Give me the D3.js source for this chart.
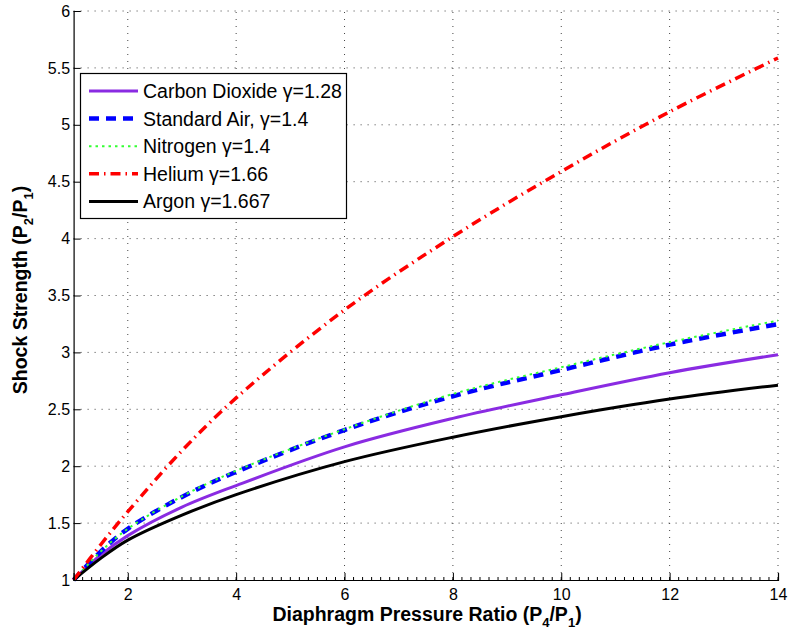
<!DOCTYPE html>
<html>
<head>
<meta charset="utf-8">
<script src="https://cdn.jsdelivr.net/npm/d3@7"></script>
<style>
  body { margin: 0; background: #fff; }
  svg { display: block; font-family: "Liberation Sans", Arial, Helvetica, sans-serif; }
</style>
</head>
<body>
<svg id="chart" width="789" height="636"></svg>
<script>
// ---- data ----
const pressureRatio = [1, 1.5, 2, 3, 4, 6, 8, 10, 12, 14];
const carbonDioxide = [1, 1.22, 1.39, 1.64, 1.83, 2.17, 2.42, 2.628, 2.822, 2.98];
const standardAir   = [1, 1.25, 1.45, 1.73, 1.95, 2.318, 2.615, 2.845, 3.068, 3.248];
const nitrogen      = [1, 1.25, 1.45, 1.735, 1.96, 2.325, 2.635, 2.87, 3.09, 3.28];
const helium        = [1, 1.31, 1.60, 2.136, 2.60, 3.373, 4.017, 4.59, 5.115, 5.587];
const argon         = [1, 1.19, 1.35, 1.57, 1.75, 2.04, 2.255, 2.435, 2.59, 2.712];
const seriesNames = ["Carbon Dioxide \u03b3=1.28", "Standard Air, \u03b3=1.4", "Nitrogen \u03b3=1.4", "Helium \u03b3=1.66", "Argon \u03b3=1.667"];
const xTicks = [2, 4, 6, 8, 10, 12, 14];
const yTicks = [1, 1.5, 2, 2.5, 3, 3.5, 4, 4.5, 5, 5.5, 6];

const styles = [
  { color: "#8a2be2", width: 3, dash: null },
  { color: "#0000ff", width: 4.5, dash: "10,7" },
  { color: "#33ff33", width: 2, dash: "2.5,4" },
  { color: "#ff0000", width: 3.5, dash: "10,5,1.5,5" },
  { color: "#000000", width: 3, dash: null }
];
const seriesValues = [carbonDioxide, standardAir, nitrogen, helium, argon];

const svg = d3.select("#chart");
const L = 73.6, R = 778, T = 11, B = 580;
const x = d3.scaleLinear().domain([1, 14]).range([L, R]);
const y = d3.scaleLinear().domain([1, 6]).range([B, T]);

// grid
const grid = svg.append("g");
grid.selectAll("line.gx").data(xTicks).enter().append("line")
  .attr("x1", d => x(d)).attr("x2", d => x(d)).attr("y1", B).attr("y2", T)
  .attr("stroke", "#444").attr("stroke-width", 1).attr("stroke-dasharray", "1,6");
grid.selectAll("line.gy").data(yTicks.filter(d => d > 1)).enter().append("line")
  .attr("x1", L).attr("x2", R).attr("y1", d => y(d)).attr("y2", d => y(d))
  .attr("stroke", "#444").attr("stroke-width", 1).attr("stroke-dasharray", "1,6");

// curves
const line = d3.line().x(d => x(d[0])).y(d => y(d[1])).curve(d3.curveCatmullRom.alpha(0.5));
const order = [0, 1, 2, 4, 3];
order.forEach(i => {
  const pts = pressureRatio.map((p, j) => [p, seriesValues[i][j]]);
  const path = svg.append("path").datum(pts).attr("d", line)
    .attr("fill", "none").attr("stroke", styles[i].color)
    .attr("stroke-width", styles[i].width);
  if (styles[i].dash) path.attr("stroke-dasharray", styles[i].dash);
});

// axes
const xAxis = d3.axisBottom(x).tickValues(xTicks).tickSize(-7).tickPadding(9).tickFormat(d3.format("d"));
const gx = svg.append("g").attr("transform", `translate(0,${B})`).call(xAxis);
const yAxis = d3.axisLeft(y).tickValues(yTicks).tickSize(-7).tickPadding(3.5).tickFormat(d => String(d));
const gy = svg.append("g").attr("transform", `translate(${L},0)`).call(yAxis);
[gx, gy].forEach(g => {
  g.select(".domain").attr("stroke", "#000").attr("stroke-width", 1.2);
  g.selectAll(".tick line").attr("stroke", "#000");
  g.selectAll(".tick text").attr("font-size", 16).attr("fill", "#000")
    .attr("font-family", "Liberation Sans, Arial, sans-serif");
});
// minor ticks on x axis
const minor = d3.range(1, 14.0001, 1 / 6);
svg.append("g").selectAll("line").data(minor).enter().append("line")
  .attr("x1", d => x(d)).attr("x2", d => x(d)).attr("y1", B).attr("y2", B - 3)
  .attr("stroke", "#000").attr("stroke-width", 1);

// axis labels
const xl = svg.append("text").attr("x", 427).attr("y", 621).attr("text-anchor", "middle")
  .attr("font-size", 19.5).attr("font-weight", "bold");
xl.append("tspan").text("Diaphragm Pressure Ratio (P");
xl.append("tspan").attr("font-size", 13).attr("dy", 6).text("4");
xl.append("tspan").attr("dy", -6).text("/P");
xl.append("tspan").attr("font-size", 13).attr("dy", 6).text("1");
xl.append("tspan").attr("dy", -6).text(")");

const yl = svg.append("text").attr("transform", "translate(27,290) rotate(-90)").attr("text-anchor", "middle")
  .attr("font-size", 19.5).attr("font-weight", "bold");
yl.append("tspan").text("Shock Strength (P");
yl.append("tspan").attr("font-size", 13).attr("dy", 6).text("2");
yl.append("tspan").attr("dy", -6).text("/P");
yl.append("tspan").attr("font-size", 13).attr("dy", 6).text("1");
yl.append("tspan").attr("dy", -6).text(")");

// legend
const lg = svg.append("g");
lg.append("rect").attr("x", 80.5).attr("y", 73.5).attr("width", 266).attr("height", 145)
  .attr("fill", "#fff").attr("stroke", "#000").attr("stroke-width", 1.2);
seriesNames.forEach((name, i) => {
  const yy = 91 + i * 27.6;
  const ln = lg.append("line").attr("x1", 89).attr("x2", 138).attr("y1", yy).attr("y2", yy)
    .attr("stroke", styles[i].color).attr("stroke-width", styles[i].width);
  if (styles[i].dash) ln.attr("stroke-dasharray", styles[i].dash);
  lg.append("text").attr("x", 143).attr("y", yy + 7).attr("font-size", 19.5).attr("fill", "#000").text(name);
});
</script>
</body>
</html>
